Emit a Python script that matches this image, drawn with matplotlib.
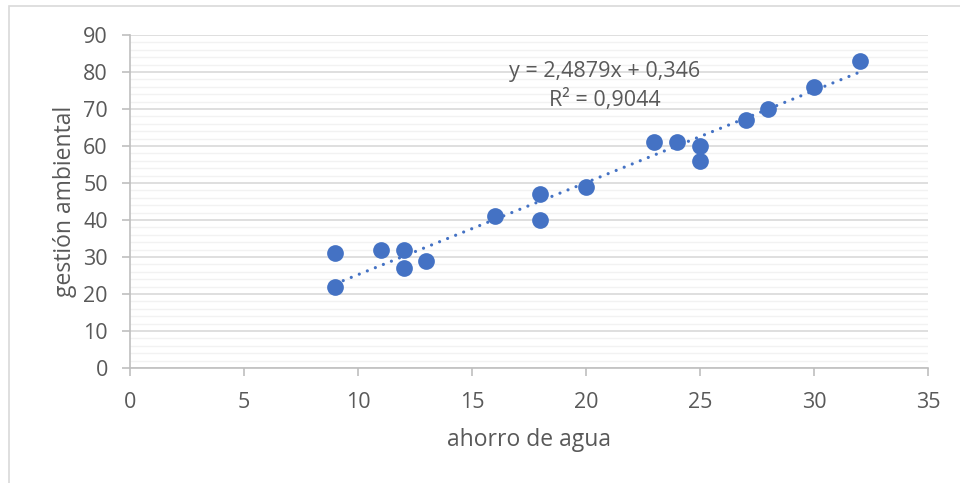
import matplotlib
matplotlib.use("Agg")
import matplotlib.pyplot as plt
import numpy as np
from matplotlib.ticker import MultipleLocator
from matplotlib.patches import Rectangle

# Data
ahorro_agua = [9, 9, 11, 12, 12, 13, 16, 18, 18, 20, 23, 24, 25, 25, 27, 28, 30, 32]
gestion_ambiental = [22, 31, 32, 32, 27, 29, 41, 47, 40, 49, 61, 61, 60, 56, 67, 70, 76, 83]
slope = 2.4879
intercept = 0.346
r2_text = "0,9044"
x_label = "ahorro de agua"
y_label = "gestión ambiental"

plt.rcParams['font.family'] = ['Open Sans', 'DejaVu Sans']
gray = '#595959'
blue = '#4472C4'

fig = plt.figure(figsize=(9.6, 4.83), dpi=100)
# outer chart border
fig.patches.append(Rectangle((9/960, -0.1), 1.2, 1 - 6/483 + 0.1, transform=fig.transFigure,
                             fill=False, edgecolor='#D9D9D9', linewidth=1.2))
ax = fig.add_axes([130/960, 1 - 368/483, (928 - 130)/960, (368 - 35)/483])

ax.set_xlim(0, 35)
ax.set_ylim(0, 90)
ax.xaxis.set_major_locator(MultipleLocator(5))
ax.yaxis.set_major_locator(MultipleLocator(10))
ax.yaxis.set_minor_locator(MultipleLocator(2))

ax.grid(axis='y', which='major', color='#D9D9D9', linewidth=1.2, zorder=0)
ax.grid(axis='y', which='minor', color='#F2F2F2', linewidth=1.0, zorder=0)
ax.set_axisbelow(True)

for s in ['top', 'right']:
    ax.spines[s].set_visible(False)
for s in ['left', 'bottom']:
    ax.spines[s].set_color('#BFBFBF')
    ax.spines[s].set_linewidth(1.2)

ax.tick_params(axis='both', which='major', direction='out', length=6, color='#BFBFBF',
               width=1.2, labelcolor=gray, labelsize=15.5)
ax.tick_params(axis='y', which='minor', length=0)
ax.tick_params(axis='x', pad=11)
ax.tick_params(axis='y', pad=10)

# trendline
xt = np.array([min(ahorro_agua), max(ahorro_agua)])
ax.plot(xt, slope * xt + intercept, linestyle=(0, (0.01, 2.7)), color=blue, linewidth=2.3,
        dash_capstyle='round', zorder=2)

ax.scatter(ahorro_agua, gestion_ambiental, s=145, color=blue, zorder=3, linewidths=0)

ax.text(0.595, 0.846, f"y = {slope:.4f}x + {intercept:.3f}".replace('.', ',') + f"\nR² = {r2_text}",
        transform=ax.transAxes, ha='center', va='center', multialignment='center',
        fontsize=15.5, color=gray, linespacing=1.4)

ax.set_xlabel(x_label, fontsize=16.5, color=gray, labelpad=11)
ax.set_ylabel(y_label, fontsize=16.5, color=gray, labelpad=4)

fig.savefig("out.png", dpi=100)
